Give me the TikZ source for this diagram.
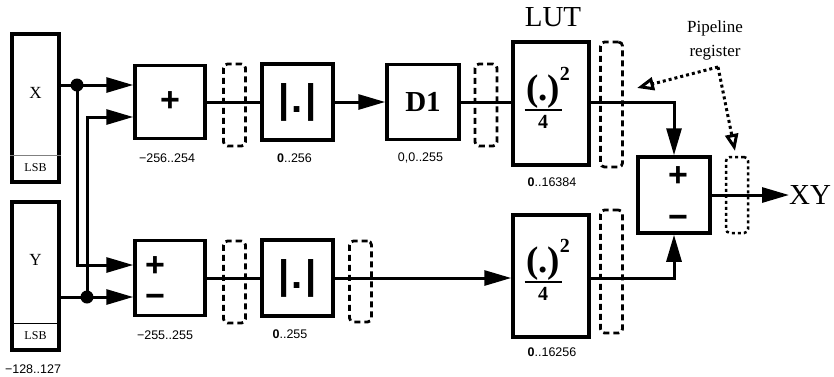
\documentclass[tikz,border=0pt]{standalone}
\usepackage{fontspec}
\setmainfont{Liberation Serif}
\setsansfont{Liberation Sans}
\usetikzlibrary{arrows.meta}

\newcommand{\SqFrac}{\vbox{\offinterlineskip\halign{\hfil##\hfil\cr
  \fontsize{37}{37}\selectfont(.)\rlap{\fontsize{20}{20}\selectfont\raisebox{20pt}{2}}\cr
  \noalign{\kern1pt}\rule{37pt}{2pt}\cr\noalign{\kern4pt}
  \fontsize{20}{20}\selectfont 4\cr}}}

\begin{document}
\begin{tikzpicture}[x=1pt, y=-1pt,
  blk/.style={draw, line width=3.5pt, inner sep=0pt},
  preg/.style={draw, line width=2.8pt, dash pattern=on 6pt off 4pt, rounded corners=4pt, minimum width=22pt},
  conn/.style={line width=3pt},
  arr/.style={conn, -{Triangle[length=27pt, width=15pt]}},
  rng/.style={font=\sffamily\fontsize{12.5}{13}\selectfont},
  opsign/.style={font=\sffamily\bfseries\fontsize{34}{34}\selectfont, inner sep=0pt},
  bar/.style={font=\sffamily\bfseries\fontsize{40}{40}\selectfont},
  note/.style={line width=3pt, dash pattern=on 3pt off 3pt, -{Triangle[open, length=17pt, width=13pt, line width=3pt]}},
]
\useasboundingbox (0,0) rectangle (834,376);

% Input registers
\node[blk, minimum width=47pt, minimum height=148pt] (regX) at (35.5,108) {};
\node[blk, minimum width=47pt, minimum height=148pt] (regY) at (35.5,276) {};
\draw[line width=1pt, gray] ([yshift=28pt]regX.south west) -- ([yshift=28pt]regX.south east);
\draw[line width=1pt] ([yshift=28pt]regY.south west) -- ([yshift=28pt]regY.south east);
\node[font=\fontsize{17}{17}\selectfont] (nameX) at (35.5,93) {X};
\node[font=\fontsize{17}{17}\selectfont] (nameY) at (35.5,260) {Y};
\node[font=\fontsize{12}{12}\selectfont] (lsbX) at (35.5,168) {LSB};
\node[font=\fontsize{12}{12}\selectfont] (lsbY) at (35.5,336) {LSB};
\node[rng] (rngIn) at (33,369) {−128..127};

% Adder and subtractor
\node[blk, opsign, minimum width=70pt, minimum height=73pt] (addX) at (170,102) {+};
\node[blk, minimum width=70pt, minimum height=75pt] (addY) at (170,278) {};
\node[opsign, align=center, font=\sffamily\bfseries\fontsize{34}{31}\selectfont] (addYsg) at (155,282.5) {+\\−};
\node[rng] (rngAddX) at (167,158) {−256..254};
\node[rng] (rngAddY) at (165,335) {−255..255};

% Absolute value
\node[blk, bar, minimum width=71pt, minimum height=76pt] (absX) at (297.5,102) {|\kern2.5pt.\kern2.5pt|};
\node[blk, bar, minimum width=71pt, minimum height=76pt] (absY) at (297.5,278) {|\kern2.5pt.\kern2.5pt|};
\node[rng] (rngAbsX) at (294.5,158) {\textbf{0}..256};
\node[rng] (rngAbsY) at (290,334) {\textbf{0}..255};

% D1
\node[blk, font=\bfseries\fontsize{29}{29}\selectfont, minimum width=72pt, minimum height=75pt] (dOne) at (423,102) {D1};
\node[rng] (rngD) at (420.5,158) {0,0..255};

% Look-up tables
\node[blk, minimum width=76pt, minimum height=123pt] (lutX) at (551,103.5) {};
\node[blk, minimum width=76pt, minimum height=122pt] (lutY) at (551,276) {};
\node[font=\bfseries, inner sep=0pt] (sqX) at (543,97.5) {\SqFrac};
\node[font=\bfseries, inner sep=0pt] (sqY) at (543,270) {\SqFrac};
\node[font=\fontsize{29}{29}\selectfont] (lutLbl) at (553,17) {LUT};
\node[rng] (rngLutX) at (552,182) {\textbf{0}..16384};
\node[rng] (rngLutY) at (552,352) {\textbf{0}..16256};

% Final subtractor
\node[blk, minimum width=72pt, minimum height=76pt] (sub) at (674,195) {};
\node[opsign, align=center, font=\sffamily\bfseries\fontsize{34}{42}\selectfont] (subSg) at (678,198) {+\\−};
\node[font=\fontsize{29}{29}\selectfont, anchor=west, inner sep=0pt] (outXY) at (789,195) {XY};

% Pipeline registers
\node[preg, minimum height=82pt] (pregA) at (234.5,105) {};
\node[preg, minimum height=82pt] (pregB) at (486,105) {};
\node[preg, minimum height=125pt] (pregC) at (611.5,104.5) {};
\node[preg, minimum height=82pt] (pregD) at (234.5,282) {};
\node[preg, minimum height=81pt] (pregE) at (360.5,281.5) {};
\node[preg, minimum height=123pt] (pregF) at (611.5,271.5) {};
\node[preg, dash pattern=on 3pt off 3pt, line width=2.5pt, minimum height=76pt] (pregG) at (737,195) {};

% Inputs
\coordinate (dotX) at (77,85);
\coordinate (dotY) at (87,297);
\draw[conn] (regX.east |- dotX) -- (dotX);
\draw[arr] (dotX) -- ([yshift=17pt]addX.west);
\draw[arr] (dotX) |- ([yshift=13pt]addY.west);
\draw[conn] (regY.east |- dotY) -- (dotY);
\draw[arr] (dotY) -- ([yshift=-19pt]addY.west);
\draw[arr] (dotY) |- ([yshift=-15pt]addX.west);
\fill (dotX) circle (6.5pt);
\fill (dotY) circle (6.5pt);

% Data path
\draw[conn] (addX) -- (absX);
\draw[arr] (absX) -- (dOne);
\draw[conn] (dOne) -- (lutX.west |- dOne);
\draw[conn] (addY) -- (absY);
\draw[arr] (absY) -- (lutY.west |- absY);
\draw[arr] (lutX.east |- dOne) -| (sub.north);
\draw[arr] (lutY.east |- absY) -| (sub.south);
\draw[arr] (sub) -- (outXY.west);

% Annotation
\node[font=\fontsize{17}{24}\selectfont, align=center] (pipeNote) at (715,40) {Pipeline\\register};
\coordinate (pipeFrom) at (718,67);
\coordinate (pipeToL) at (637,88);
\coordinate (pipeToR) at (735,151);
\draw[note] (pipeFrom) -- (pipeToL);
\draw[note] (pipeFrom) -- (pipeToR);

\end{tikzpicture}
\end{document}
